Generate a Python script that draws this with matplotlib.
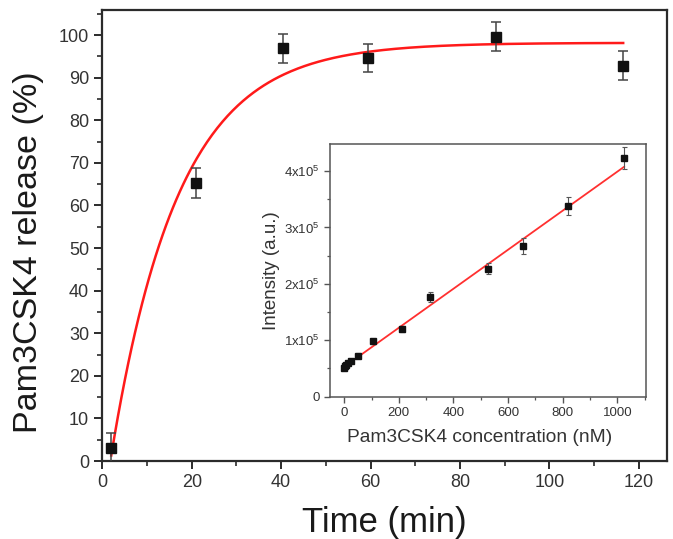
import numpy as np
import matplotlib
matplotlib.use('Agg')
import matplotlib.pyplot as plt
from matplotlib.ticker import MultipleLocator, FuncFormatter

plt.rcParams['font.family'] = ['Liberation Sans', 'DejaVu Sans']
plt.rcParams['mathtext.fontset'] = 'custom'
plt.rcParams['mathtext.rm'] = 'Liberation Sans'
plt.rcParams['mathtext.it'] = 'Liberation Sans'

# release kinetics (main plot)
time_min = [2, 21, 40.4, 59.5, 88, 116.5]
release_pct = [3.0, 65.3, 96.9, 94.7, 99.6, 92.8]
release_err = [3.6, 3.6, 3.4, 3.3, 3.4, 3.4]

# fit curve: A * (1 - exp(-k (t - t0)))
fit_plateau = 98.2
fit_rate = 0.0665
fit_t0 = 1.8

# calibration (inset)
conc_nM = [0, 3, 6.5, 13, 26, 52, 105, 210, 315, 525, 655, 820, 1025]
intensity = [0.51e5, 0.54e5, 0.57e5, 0.60e5, 0.63e5, 0.73e5, 0.98e5, 1.20e5,
             1.77e5, 2.27e5, 2.67e5, 3.38e5, 4.23e5]
intensity_err = [0.03e5, 0.03e5, 0.03e5, 0.03e5, 0.03e5, 0.04e5, 0.05e5, 0.06e5,
                 0.09e5, 0.10e5, 0.14e5, 0.16e5, 0.20e5]
line_intercept = 0.53e5
line_slope = 346.0

TXT = '#333333'
SPINE = '#2b2b2b'

fig = plt.figure(figsize=(6.73, 5.39), dpi=100)
W, H = 673.0, 539.0

ax = fig.add_axes([102.3 / W, 1 - 461 / H, (667 - 102.3) / W, (461 - 10) / H])
t_fit = np.linspace(fit_t0 + 0.2, time_min[-1], 300)
ax.plot(t_fit, fit_plateau * (1 - np.exp(-fit_rate * (t_fit - fit_t0))),
        color='#ff1a1a', lw=1.8, zorder=2)
ax.errorbar(time_min, release_pct, yerr=release_err, fmt='s', color='#111111',
            ms=7.5, ecolor='#444444', elinewidth=1.1, capsize=3.5, capthick=1.1,
            zorder=3)
ax.set_xlim(0, 126.3)
ax.set_ylim(0, 105.9)
ax.xaxis.set_major_locator(MultipleLocator(20))
ax.xaxis.set_minor_locator(MultipleLocator(10))
ax.yaxis.set_major_locator(MultipleLocator(10))
ax.yaxis.set_minor_locator(MultipleLocator(5))
ax.tick_params(which='major', direction='out', length=6, width=1.4, color=SPINE,
               labelsize=13, labelcolor=TXT, top=False, right=False)
ax.tick_params(which='minor', direction='out', length=3.5, width=1.2, color=SPINE,
               top=False, right=False)
for s in ax.spines.values():
    s.set_linewidth(1.6)
    s.set_color(SPINE)
ax.set_xlabel('Time (min)', fontsize=25, color='#1a1a1a', labelpad=11)
ax.set_ylabel('Pam3CSK4 release (%)', fontsize=24.5, color='#1a1a1a')
ax.yaxis.label.set_va('center')
ax.yaxis.set_label_coords((29 - 102.3) / (667 - 102.3), (461 - 252) / (461 - 10))

# inset
ins = fig.add_axes([330 / W, 1 - 396.7 / H, (646 - 330) / W, (396.7 - 144) / H])
c_fit = np.array([conc_nM[0], conc_nM[-1]])
ins.plot(c_fit, line_intercept + line_slope * c_fit, color='#ff3030', lw=1.3, zorder=2)
ins.errorbar(conc_nM, intensity, yerr=intensity_err, fmt='s', color='#111111',
             ms=4, ecolor='#555555', elinewidth=0.8, capsize=1.8, capthick=0.8,
             zorder=3)
ins.set_xlim(-52, 1105)
ins.set_ylim(0, 4.48e5)
ins.xaxis.set_major_locator(MultipleLocator(200))
ins.xaxis.set_minor_locator(MultipleLocator(100))
ins.yaxis.set_major_locator(MultipleLocator(1e5))
ins.yaxis.set_minor_locator(MultipleLocator(0.5e5))


def sci_fmt(v, pos):
    if v == 0:
        return '0'
    return r'$%d\mathrm{x}10^{5}$' % round(v / 1e5)


ins.yaxis.set_major_formatter(FuncFormatter(sci_fmt))
ins.tick_params(which='major', direction='out', length=4, width=1.0, color='#555555',
                labelsize=9.5, labelcolor=TXT, top=False, right=False)
ins.tick_params(which='minor', direction='out', length=2.5, width=0.9, color='#555555',
                top=False, right=False)
for s in ins.spines.values():
    s.set_linewidth(1.1)
    s.set_color('#555555')
ins.set_xlabel('Pam3CSK4 concentration (nM)', fontsize=13.8, color=TXT)
ins.xaxis.set_label_coords((480 - 330) / (646 - 330), -0.16)
ins.xaxis.label.set_va('center')
ins.set_ylabel('Intensity (a.u.)', fontsize=13.5, color=TXT, labelpad=3)

fig.savefig('out.png', dpi=100)
